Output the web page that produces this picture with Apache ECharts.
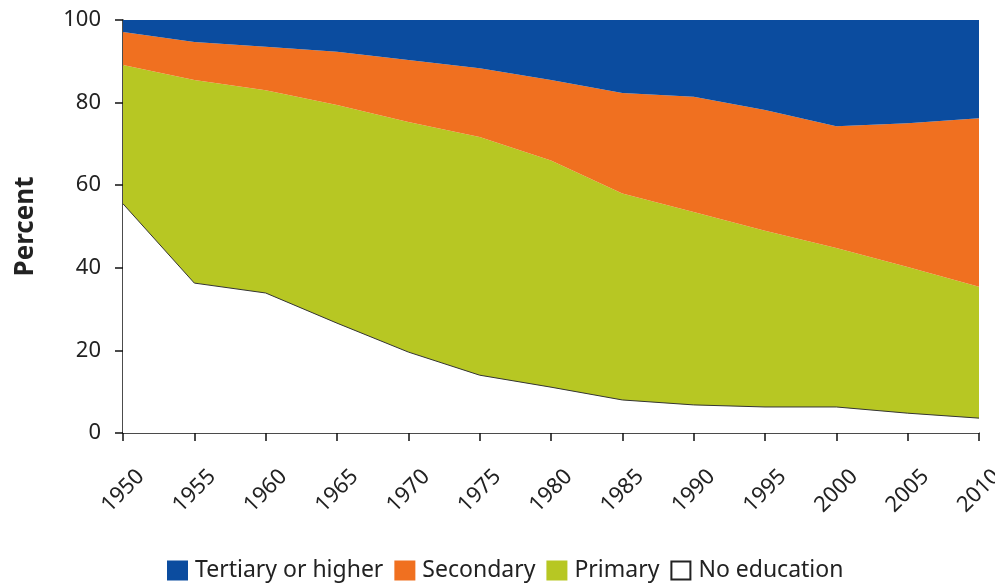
<!DOCTYPE html>
<html>
<head>
<meta charset="utf-8">
<script src="https://cdn.jsdelivr.net/npm/echarts@6/dist/echarts.min.js"></script>
<style>html,body{margin:0;padding:0;background:#fff;}#c{width:995px;height:586px;}</style>
</head>
<body>
<div id="c"></div>
<script>
const years = ['1950','1955','1960','1965','1970','1975','1980','1985','1990','1995','2000','2005','2010'];
const noEducation = [55.5, 36.3, 33.9, 26.6, 19.6, 14.0, 11.1, 8.0, 6.8, 6.3, 6.3, 4.8, 3.6];
const primary     = [33.6, 49.2, 49.1, 52.8, 55.7, 57.7, 54.9, 50.0, 46.7, 42.7, 38.5, 35.4, 31.8];
const secondary   = [8.0, 9.2, 10.5, 12.9, 15.0, 16.6, 19.5, 24.3, 27.9, 29.2, 29.5, 34.8, 40.8];
const tertiary    = [2.9, 5.3, 6.5, 7.7, 9.7, 11.7, 14.5, 17.7, 18.6, 21.8, 25.7, 25.0, 23.8];
const yTicks = [0, 20, 40, 60, 80, 100];

const FONT = 'Noto Sans';
const chart = echarts.init(document.getElementById('c'));
function area(name, data, color, lineColor, lineWidth) {
  return {
    name, type: 'line', stack: 'edu', data,
    symbol: 'none', smooth: false,
    lineStyle: { width: lineWidth, color: lineColor },
    areaStyle: { color: color, opacity: 1 },
    itemStyle: { color: color, borderColor: lineColor === 'transparent' ? color : '#222', borderWidth: 1 },
    emphasis: { disabled: true }
  };
}
chart.setOption({
  animation: false,
  grid: { left: 123, right: 16, top: 20, bottom: 153, outerBoundsMode: 'none', containLabel: false },
  legend: {
    top: 554, left: 162,
    itemWidth: 19, itemHeight: 18, itemGap: 11,
    icon: 'rect',
    textStyle: { fontFamily: FONT, fontSize: 23, color: '#222', padding: [0, 0, 0, 3] },
    data: ['Tertiary or higher', 'Secondary', 'Primary', 'No education']
  },
  xAxis: {
    type: 'category', data: years, boundaryGap: false,
    axisLine: { lineStyle: { color: '#111', width: 1.5 } },
    axisTick: { alignWithLabel: true, length: 8, lineStyle: { color: '#111', width: 1.5 } },
    axisLabel: { rotate: 45, align: 'center', verticalAlign: 'middle', fontFamily: FONT, fontSize: 22, color: '#222', margin: 58 },
    splitLine: { show: false }
  },
  yAxis: {
    type: 'value', min: yTicks[0], max: yTicks[yTicks.length - 1], interval: 20,
    name: 'Percent', nameLocation: 'middle', nameGap: 84,
    nameTextStyle: { fontFamily: FONT, fontSize: 26, fontWeight: 'bold', color: '#222' },
    axisLine: { show: true, lineStyle: { color: '#111', width: 1.5 } },
    axisTick: { show: true, length: 8, lineStyle: { color: '#111', width: 1.5 } },
    axisLabel: { fontFamily: FONT, fontSize: 22, color: '#222', margin: 22 },
    splitLine: { show: false }
  },
  series: [
    area('No education', noEducation, '#ffffff', '#333', 1),
    area('Primary', primary, '#b7c723', 'transparent', 0),
    area('Secondary', secondary, '#f07020', 'transparent', 0),
    area('Tertiary or higher', tertiary, '#0b4c9f', 'transparent', 0)
  ]
});
</script>
</body>
</html>
